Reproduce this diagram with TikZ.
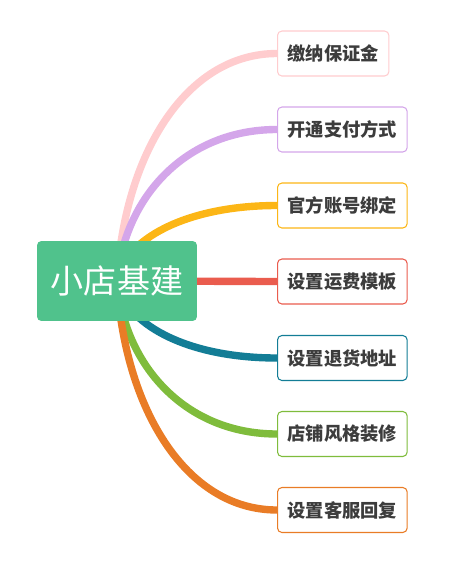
\documentclass[tikz,border=0pt]{standalone}
\usepackage{fontspec}
\newfontfamily\cjk{Noto Sans CJK SC}
\usetikzlibrary{calc,backgrounds}
\definecolor{hubgreen}{RGB}{80,194,140}
\definecolor{txtgray}{RGB}{60,60,60}
\definecolor{brpink}{RGB}{255,204,206}
\definecolor{brpurple}{RGB}{212,166,234}
\definecolor{bryellow}{RGB}{252,182,22}
\definecolor{brred}{RGB}{234,92,78}
\definecolor{brteal}{RGB}{19,125,150}
\definecolor{brgreen}{RGB}{127,188,60}
\definecolor{brorange}{RGB}{233,124,38}
\tikzset{
    hub/.style={
        fill=hubgreen,rounded corners=2.5pt,minimum width=3.2cm,
        minimum height=1.6cm,text=white,font=\cjk\fontsize{18.8}{20}\selectfont
    },
    leaf/.style={
        draw=#1,line width=0.6pt,rounded corners=2.5pt,fill=white,anchor=west,
        minimum height=0.9cm,inner xsep=0.2cm,text=txtgray,
        font=\cjk\bfseries\fontsize{10.4}{12}\selectfont
    },
    branch/.style={
        draw=#1,line width=4.2pt
    }
}
\begin{document}
\begin{tikzpicture}[x=0.02cm,y=-0.02cm]
\useasboundingbox (0,0) rectangle (456,562);

\node[hub](hub) at (117,281){小店基建};

\node[leaf=brpink](deposit) at (277,53.5){缴纳保证金};
\node[leaf=brpurple](payment) at (277,129.5){开通支付方式};
\node[leaf=bryellow](account) at (277,205.5){官方账号绑定};
\node[leaf=brred](freight) at (277,281.5){设置运费模板};
\node[leaf=brteal](refund) at (277,358){设置退货地址};
\node[leaf=brgreen](decor) at (277,434){店铺风格装修};
\node[leaf=brorange](service) at (277,510){设置客服回复};

\begin{pgfonlayer}{background}
\draw[branch=brpink](hub.center)
  .. controls ($(hub.center)+(7,-125)$) and ($(deposit.west)+(-92,0)$) .. (deposit.west);
\draw[branch=brpurple](hub.center)
  .. controls ($(hub.center)+(7,-83)$) and ($(payment.west)+(-92,0)$) .. (payment.west);
\draw[branch=bryellow](hub.center)
  .. controls ($(hub.center)+(7,-41)$) and ($(account.west)+(-92,0)$) .. (account.west);
\draw[branch=brred](hub.center) -- (freight.west);
\draw[branch=brteal](hub.center)
  .. controls ($(hub.center)+(7,42)$) and ($(refund.west)+(-92,0)$) .. (refund.west);
\draw[branch=brgreen](hub.center)
  .. controls ($(hub.center)+(7,84)$) and ($(decor.west)+(-92,0)$) .. (decor.west);
\draw[branch=brorange](hub.center)
  .. controls ($(hub.center)+(7,126)$) and ($(service.west)+(-92,0)$) .. (service.west);
\end{pgfonlayer}

\end{tikzpicture}
\end{document}
